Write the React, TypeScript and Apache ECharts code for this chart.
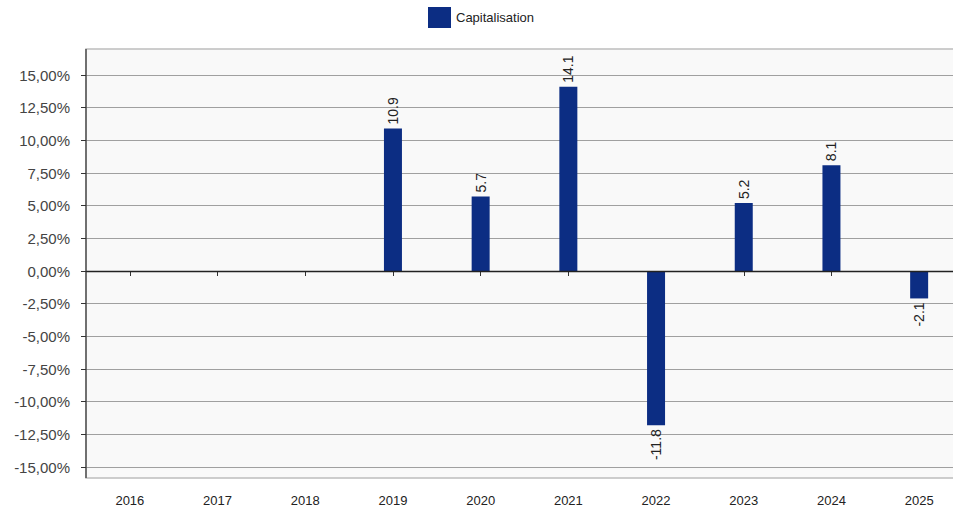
import React, { useEffect, useRef } from "react";
import * as echarts from "echarts";

const categories = ["2016", "2017", "2018", "2019", "2020", "2021", "2022", "2023", "2024", "2025"];
const capitalisation = [0, 0, 0, 10.9, 5.7, 14.1, -11.8, 5.2, 8.1, -2.1];
const seriesName = "Capitalisation";

export default function App() {
  const ref = useRef<HTMLDivElement>(null);
  useEffect(() => {
    if (!ref.current) return;
    const chart = echarts.init(ref.current, undefined, { renderer: "svg" });
    const font = "'Liberation Sans', Arial, sans-serif";
    const narrow = "'Liberation Sans Narrow', 'Liberation Sans', Arial, sans-serif";
    chart.setOption({
      animation: false,
      backgroundColor: "#ffffff",
      legend: {
        data: [seriesName],
        top: 2,
        left: 423,
        itemWidth: 23,
        itemHeight: 21,
        itemGap: 8,
        icon: "rect",
        textStyle: { fontFamily: narrow, fontSize: 13, color: "#222" },
      },
      graphic: [
        {
          type: "rect",
          z: -100,
          silent: true,
          shape: { x: 86, y: 49, width: 880, height: 429 },
          style: { fill: "#f9f9f9", stroke: "#bdbdbd", lineWidth: 1.5 },
        },
        {
          type: "line",
          z: 10,
          silent: true,
          shape: { x1: 86, y1: 49, x2: 86, y2: 478 },
          style: { stroke: "#333", lineWidth: 1.2 },
        },
      ],
      grid: { left: 86, width: 877, top: 75, bottom: 48, containLabel: false },
      xAxis: {
        type: "category",
        data: categories,
        offset: 11,
        axisLine: { show: true, lineStyle: { color: "#333", width: 1.2 } },
        axisTick: { show: true, alignWithLabel: true, length: 5, lineStyle: { color: "#333" } },
        axisLabel: { margin: 16, fontFamily: narrow, fontSize: 13, color: "#222", interval: 0 },
        splitLine: { show: false },
      },
      yAxis: {
        type: "value",
        min: -15,
        max: 15,
        interval: 2.5,
        axisLine: { show: false },
        axisTick: { show: true, length: 5, lineStyle: { color: "#333" } },
        axisLabel: {
          margin: 16,
          fontFamily: font,
          fontSize: 15,
          color: "#444",
          formatter: (v: number) => v.toFixed(2).replace(".", ",") + "%",
        },
        splitLine: {
          show: true,
          lineStyle: { color: "#a0a0a0", width: 1.2 },
        },
      },
      series: [
        {
          name: seriesName,
          type: "bar",
          barWidth: 18,
          itemStyle: { color: "#0c2d83" },
          data: capitalisation.map((v) => ({
            value: v,
            label: {
              show: v !== 0,
              position: v >= 0 ? "top" : "bottom",
              rotate: 90,
              align: v >= 0 ? "left" : "right",
              verticalAlign: "middle",
              distance: 4,
              fontFamily: narrow,
              fontSize: 14,
              color: "#222",
              formatter: () => String(v),
            },
          })),
          markLine: {
            silent: true,
            symbol: "none",
            label: { show: false },
            lineStyle: { color: "#222", type: "solid", width: 1.3 },
            data: [{ yAxis: 0 }],
          },
        },
      ],
    });
    return () => chart.dispose();
  }, []);
  return (
    <div style={{ width: 953, height: 515, position: "absolute", left: 0, top: 0, overflow: "hidden" }}>
      <div ref={ref} style={{ width: 980, height: 515 }} />
    </div>
  );
}
